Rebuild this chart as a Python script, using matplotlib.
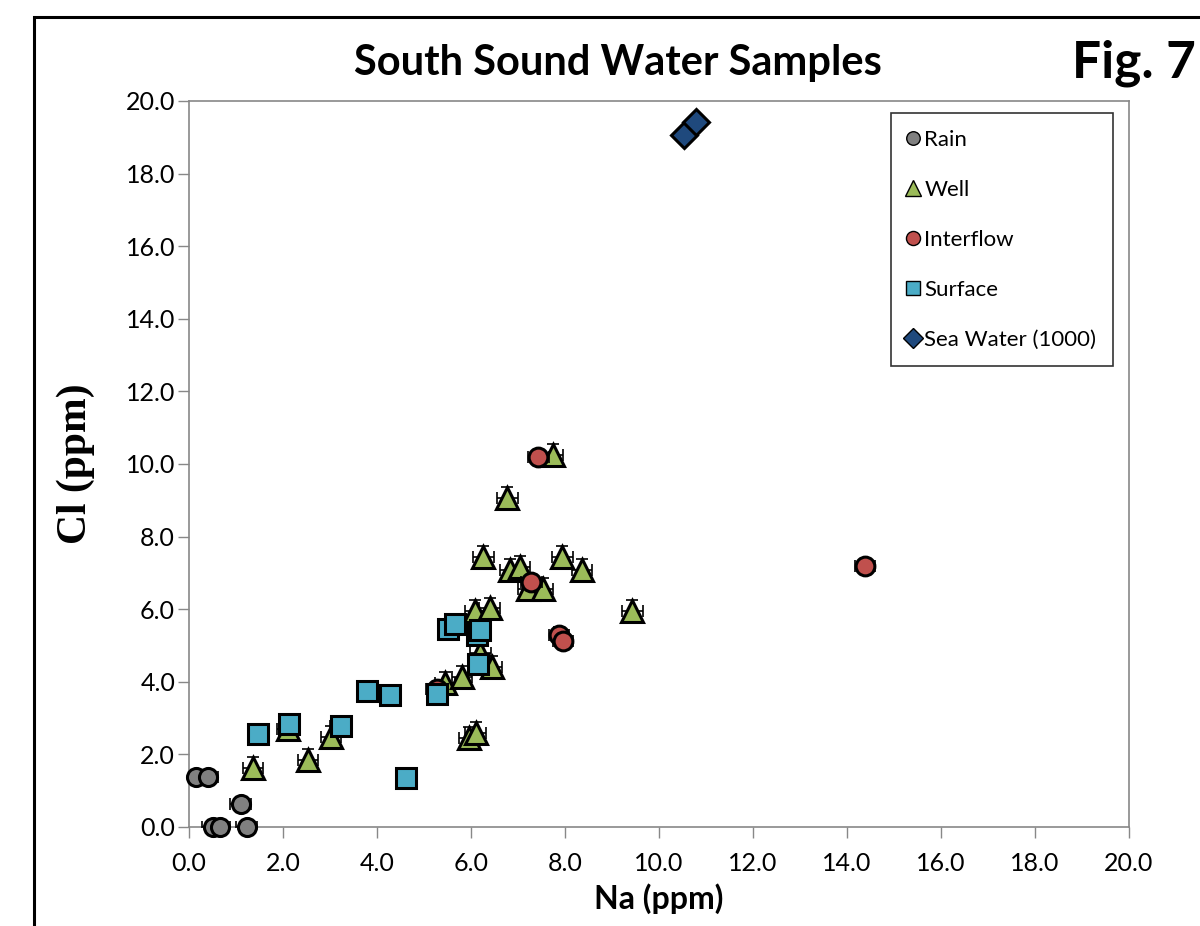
import matplotlib
matplotlib.use('Agg')
import matplotlib.pyplot as plt
from matplotlib.patches import Rectangle
from matplotlib.ticker import FormatStrFormatter, MultipleLocator

plt.rcParams['font.family'] = ['Lato', 'DejaVu Sans']

# values (ppm)
rain_na = [0.15, 0.40, 1.10, 0.50, 0.65, 1.23]
rain_cl = [1.38, 1.38, 0.63, 0.0, 0.0, 0.0]

well_na = [1.36, 2.10, 2.53, 3.02, 5.45, 5.81, 5.96, 6.10, 6.20, 6.45, 6.09,
           6.40, 7.21, 7.53, 6.83, 7.04, 6.26, 7.94, 8.36, 6.77, 7.74, 9.43]
well_cl = [1.63, 2.70, 1.85, 2.48, 3.96, 4.13, 2.45, 2.60, 4.80, 4.40, 5.95,
           6.02, 6.55, 6.55, 7.08, 7.16, 7.44, 7.44, 7.08, 9.06, 10.25, 5.95]

interflow_na = [5.27, 7.28, 7.43, 7.87, 7.96, 14.38]
interflow_cl = [3.80, 6.75, 10.19, 5.30, 5.12, 7.19]

surface_na = [1.47, 2.13, 3.23, 3.79, 4.28, 4.62, 5.28, 5.51, 5.66, 6.13, 6.19, 6.15]
surface_cl = [2.56, 2.84, 2.78, 3.75, 3.64, 1.35, 3.66, 5.46, 5.60, 5.30, 5.43, 4.50]

sea_na = [10.53, 10.78]
sea_cl = [19.05, 19.43]

series = [
    ('Rain', rain_na, rain_cl, 'o', '#808080', 13, 0.2),
    ('Well', well_na, well_cl, '^', '#9BBB59', 15.5, 0.3),
    ('Interflow', interflow_na, interflow_cl, 'o', '#C0504D', 13.5, 0.2),
    ('Surface', surface_na, surface_cl, 's', '#4BACC6', 14, 0.2),
    ('Sea Water (1000)', sea_na, sea_cl, 'D', '#1F497D', 13.5, None),
]

fig = plt.figure(figsize=(12, 9.26), dpi=100)
ax = fig.add_axes([189 / 1200, 1 - 827 / 926, 940 / 1200, 726 / 926])

z = 3
for name, xs, ys, mk, col, ms, yerr in series:
    if yerr is not None:
        ax.errorbar(xs, ys, xerr=0.22, yerr=yerr, fmt='none', ecolor='black',
                    elinewidth=1.2, capsize=4, capthick=1.2, zorder=z)
    ax.plot(xs, ys, linestyle='none', marker=mk, markersize=ms,
            markerfacecolor=col, markeredgecolor='black', markeredgewidth=2.2,
            label=name, zorder=z + 0.5, clip_on=False)
    z += 1

ax.set_xlim(0, 20)
ax.set_ylim(0, 20)
ax.xaxis.set_major_locator(MultipleLocator(2))
ax.yaxis.set_major_locator(MultipleLocator(2))
ax.xaxis.set_major_formatter(FormatStrFormatter('%.1f'))
ax.yaxis.set_major_formatter(FormatStrFormatter('%.1f'))
ax.tick_params(direction='out', length=8, width=1, color='#888888',
               labelsize=18)
ax.tick_params(axis='y', pad=2)
ax.tick_params(axis='x', pad=10)
for sp in ax.spines.values():
    sp.set_color('#888888')
    sp.set_linewidth(1.2)

ax.set_xlabel('Na (ppm)', fontsize=23, fontweight='bold', labelpad=6)
ax.set_ylabel('Cl (ppm)', fontsize=30, fontweight='bold',
              family=['Liberation Serif', 'DejaVu Serif'], labelpad=22)

leg = ax.legend(loc='upper right', bbox_to_anchor=(1113 / 1200, 1 - 113 / 926),
                bbox_transform=fig.transFigure, fontsize=16, markerscale=0.75,
                handlelength=0.5, handletextpad=0.25, labelspacing=1.35,
                borderpad=0.75, borderaxespad=0, fancybox=False,
                frameon=True, edgecolor='black')
leg.get_frame().set_linewidth(1.2)
for h in leg.legend_handles:
    h.set_markeredgewidth(1)

fig.text(618 / 1200, 1 - 63 / 926, 'South Sound Water Samples', ha='center',
         va='center', fontsize=30, fontweight='bold')
fig.text(1196 / 1200, 1 - 63 / 926, 'Fig. 7', ha='right', va='center',
         fontsize=37, fontweight='bold')

# outer chart frame (runs off the right and bottom edges)
fig.patches.append(Rectangle((34 / 1200, -0.2), 1.0, 1 - 17 / 926 + 0.2,
                             transform=fig.transFigure, fill=False,
                             edgecolor='black', linewidth=2.2))

fig.savefig('out.png', dpi=100)
